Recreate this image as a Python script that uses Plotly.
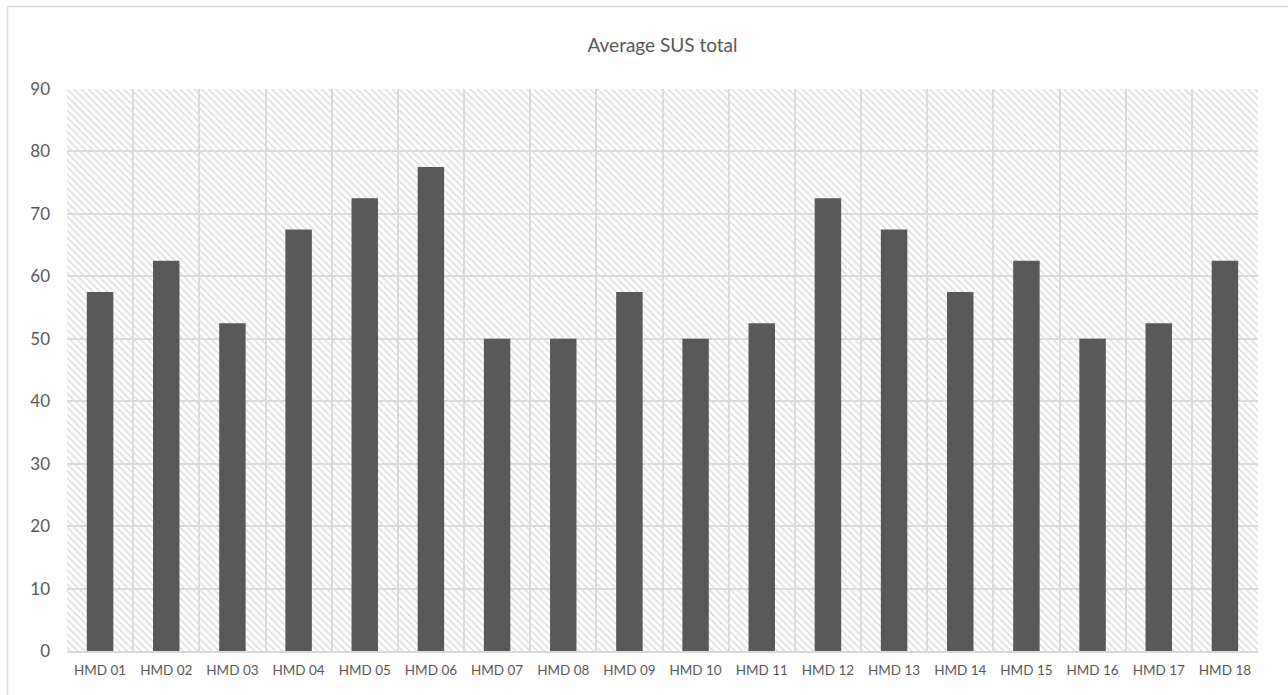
import plotly.graph_objects as go

# Average SUS score per headset
categories = ["HMD 01", "HMD 02", "HMD 03", "HMD 04", "HMD 05", "HMD 06",
              "HMD 07", "HMD 08", "HMD 09", "HMD 10", "HMD 11", "HMD 12",
              "HMD 13", "HMD 14", "HMD 15", "HMD 16", "HMD 17", "HMD 18"]
sus_total = [57.5, 62.5, 52.5, 67.5, 72.5, 77.5,
             50, 50, 57.5, 50, 52.5, 72.5,
             67.5, 57.5, 62.5, 50, 52.5, 62.5]
y_ticks = [0, 10, 20, 30, 40, 50, 60, 70, 80, 90]
y_max = 90

W, H = 1288, 695
ML, MR, MT, MB = 67, 30, 89, 44
FONT = "Lato"
TEXT = "#595959"
GRID = "#d9d9d9"

fig = go.Figure()

# hatched plot-area background, one full-width column per category
fig.add_trace(go.Bar(
    x=categories, y=[y_max] * len(categories), width=1.0,
    marker=dict(color="rgba(0,0,0,0)", line=dict(width=0),
                pattern=dict(shape="\\", fgcolor="#dddddd",
                             bgcolor="rgba(0,0,0,0)", size=5,
                             solidity=0.3, fillmode="replace")),
    hoverinfo="skip", showlegend=False,
))

fig.add_trace(go.Bar(
    x=categories, y=sus_total, width=0.4,
    marker=dict(color="#595959", line=dict(width=0)),
    showlegend=False,
))

pw = W - ML - MR
ph = H - MT - MB
left_x = (7.5 - ML) / pw
top_y = 1 + (MT - 6.5) / ph

fig.update_layout(
    width=W, height=H,
    margin=dict(l=ML, r=MR, t=MT, b=MB),
    barmode="overlay",
    paper_bgcolor="white", plot_bgcolor="white",
    font=dict(family=FONT, color=TEXT),
    title=dict(text="Average SUS total", x=0.5, xanchor="center",
               xref="paper", y=1 - 45 / H, yanchor="middle", yref="container",
               font=dict(size=19, color=TEXT, family=FONT)),
    xaxis=dict(type="category", tickson="boundaries", showgrid=True,
               gridcolor=GRID, gridwidth=1.5, ticks="", showline=True,
               linecolor=GRID, linewidth=1.5, range=[-0.5, 17.5],
               tickfont=dict(size=13.5, color=TEXT, family=FONT),
               ticklabelstandoff=6, mirror=False),
    yaxis=dict(range=[0, y_max], tickvals=y_ticks, showgrid=True,
               gridcolor=GRID, gridwidth=1.5, zeroline=False, ticks="",
               showline=False,
               tickfont=dict(size=17, color=TEXT, family=FONT),
               ticklabelstandoff=16),
    shapes=[
        dict(type="line", xref="paper", yref="paper", x0=left_x, x1=left_x,
             y0=-0.2, y1=top_y, line=dict(color=GRID, width=1.5)),
        dict(type="line", xref="paper", yref="paper", x0=left_x, x1=1.1,
             y0=top_y, y1=top_y, line=dict(color=GRID, width=1.5)),
    ],
)

fig.write_html("out.html")
